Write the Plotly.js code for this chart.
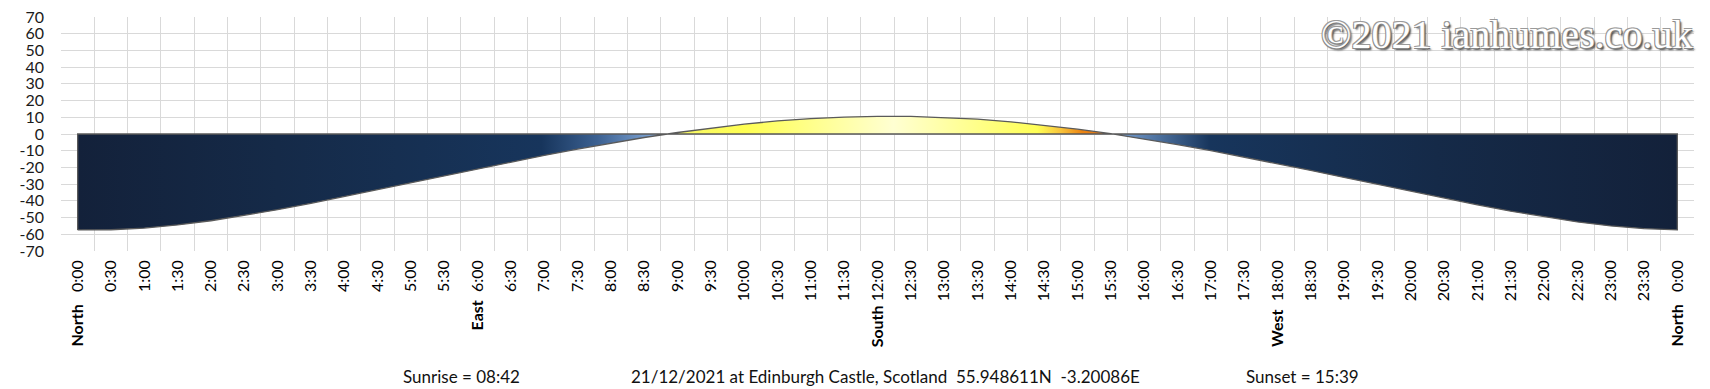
<!DOCTYPE html>
<html>
<head>
<meta charset="utf-8">
<script src="https://cdn.plot.ly/plotly-3.0.1.min.js"></script>
<style>
  html, body { margin: 0; padding: 0; background: #ffffff; }
  #chart { width: 1710px; height: 389px; }
</style>
</head>
<body>
<div id="chart"></div>
<script>
// Half-hour time categories (labels as shown on the x axis)
const timeLabels = [
  "<b>North</b>\u00a0\u00a0\u00a00:00", "0:30", "1:00", "1:30", "2:00", "2:30", "3:00", "3:30",
  "4:00", "4:30", "5:00", "5:30", "<b>East</b>\u00a0\u00a06:00", "6:30", "7:00", "7:30",
  "8:00", "8:30", "9:00", "9:30", "10:00", "10:30", "11:00", "11:30",
  "<b>South</b>\u00a012:00", "12:30", "13:00", "13:30", "14:00", "14:30", "15:00", "15:30",
  "16:00", "16:30", "17:00", "17:30", "<b>West</b>\u00a0\u00a018:00", "18:30", "19:00", "19:30",
  "20:00", "20:30", "21:00", "21:30", "22:00", "22:30", "23:00", "23:30",
  "<b>North</b>\u00a0\u00a0\u00a00:00"
];

// Sun elevation (degrees)
const elevation = [
  -57.4, -57.3, -56.3, -54.4, -51.9, -48.8, -45.3, -41.5,
  -37.4, -33.3, -29.1, -24.9, -20.8, -16.7, -12.8, -9.0,
  -5.4, -2.1, 0.9, 3.6, 5.9, 7.8, 9.2, 10.1,
  10.6, 10.5, 9.9, 8.9, 7.3, 5.3, 2.9, 0.2,
  -2.9, -6.3, -9.9, -13.8, -17.7, -21.8, -26.0, -30.2,
  -34.4, -38.5, -42.4, -46.2, -49.6, -52.6, -55.0, -56.6,
  -57.4
];

// Y axis ticks
const yTickVals = [70, 60, 50, 40, 30, 20, 10, 0, -10, -20, -30, -40, -50, -60, -70];
const yTickText = ["70", "60", "50", "40", "30", "20", "10", "0", "-10", "-20", "-30", "-40", "-50", "-60", "-70"];

// Texts
const sunriseText = "Sunrise = 08:42";
const sunsetText = "Sunset = 15:39";
const captionText = "21/12/2021 at Edinburgh Castle, Scotland\u00a0\u00a055.948611N\u00a0\u00a0-3.20086E";
const watermarkText = "\u00a92021 ianhumes.co.uk";

// Build the closed polygon: curve, then back along zero
const idx = timeLabels.map((_, i) => i);
const last = idx.length - 1;
const polyX = idx.concat([last, 0, 0]);
const polyY = elevation.concat([0, 0, elevation[0]]);

const boundaries = idx.map(i => i - 0.5).concat([last + 0.5]);

const gradient = [
  [0.000, "#13213a"],
  [0.125, "#152a48"],
  [0.290, "#17355c"],
  [0.325, "#3c6192"],
  [0.364, "#86acdc"],
  [0.368, "#f6f66a"],
  [0.417, "#ffff52"],
  [0.510, "#ffffd2"],
  [0.600, "#ffff55"],
  [0.615, "#f8c23a"],
  [0.628, "#ec8412"],
  [0.644, "#d9701a"],
  [0.648, "#7aa3d6"],
  [0.708, "#17355c"],
  [0.850, "#152a48"],
  [1.000, "#13213a"]
];

const traces = [{
  type: "scatter",
  mode: "lines",
  x: polyX,
  y: polyY,
  fill: "toself",
  fillcolor: "#17355c",
  fillgradient: { type: "horizontal", colorscale: gradient },
  line: { color: "#5a5a5a", width: 1.3 },
  hoverinfo: "skip",
  showlegend: false
}];

const fam = "Lato, 'Liberation Sans', sans-serif";

const layout = {
  width: 1710,
  height: 389,
  margin: { l: 61, r: 16, t: 17, b: 138, pad: 0 },
  paper_bgcolor: "#ffffff",
  plot_bgcolor: "#ffffff",
  showlegend: false,
  font: { family: fam, size: 16, color: "#111111" },
  xaxis: {
    type: "linear",
    range: [-0.5, last + 0.5],
    tickmode: "array",
    tickvals: idx,
    ticktext: timeLabels,
    tickangle: -90,
    showgrid: false,
    zeroline: false,
    showline: false,
    ticks: "",
    ticklabelstandoff: 5,
    tickfont: { family: fam, size: 16, color: "#000000" },
    minor: { tickmode: "array", tickvals: boundaries, showgrid: true, gridcolor: "#d9d9d9", gridwidth: 1, ticks: "" },
    fixedrange: true
  },
  yaxis: {
    range: [-70, 70],
    tickmode: "array",
    tickvals: yTickVals,
    ticktext: yTickText,
    showgrid: true,
    gridcolor: "#d9d9d9",
    gridwidth: 1,
    zeroline: false,
    showline: false,
    ticks: "",
    ticklabelstandoff: 16,
    tickfont: { family: fam, size: 16, color: "#1a1a1a" },
    fixedrange: true
  },
  annotations: [
    {
      text: sunriseText, xref: "paper", yref: "paper", x: (401 - 61) / 1633, y: -0.538,
      xanchor: "left", yanchor: "middle", showarrow: false,
      font: { family: fam, size: 17, color: "#111111" }
    },
    {
      text: captionText, xref: "paper", yref: "paper", x: (629 - 61) / 1633, y: -0.538,
      xanchor: "left", yanchor: "middle", showarrow: false,
      font: { family: fam, size: 17, color: "#111111" }
    },
    {
      text: sunsetText, xref: "paper", yref: "paper", x: (1244 - 61) / 1633, y: -0.538,
      xanchor: "left", yanchor: "middle", showarrow: false,
      font: { family: fam, size: 17, color: "#111111" }
    },
    {
      text: watermarkText, xref: "paper", yref: "paper", x: 1.0, y: 0.925,
      xanchor: "right", yanchor: "middle", showarrow: false,
      font: {
        family: "'Liberation Serif', 'DejaVu Serif', serif", size: 40, color: "#ffffff",
        shadow: "-1px -1px 0 #9a9a9a, 1px -1px 0 #9a9a9a, -1px 1px 0 #8a8a8a, 1px 1px 0 #6a6a6a, 2px 2px 2px #404040"
      }
    }
  ]
};

Plotly.newPlot("chart", traces, layout, { staticPlot: true, displayModeBar: false });
</script>
</body>
</html>
